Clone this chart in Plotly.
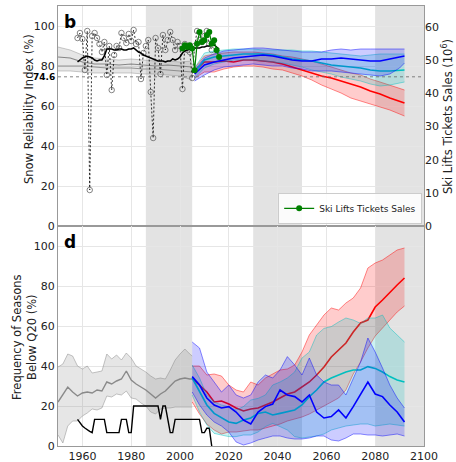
import plotly.graph_objects as go

# ---------------- panel b : Snow Reliability Index ----------------
HIST_YEARS_B = [1950, 1955, 1960, 1965, 1970, 1975, 1980, 1985, 1990, 1995, 2000, 2005]
grey_up_b = [89.5, 88, 85.5, 84, 83.5, 83, 83.5, 83, 82.5, 82.5, 82, 82.5]
grey_mid_b = [84.5, 84, 82, 81, 81, 80.5, 81, 80.5, 80, 80.5, 80, 79.5]
grey_mean_b = [80, 80, 80, 79.5, 79, 79, 79, 78.5, 78.5, 78, 77.5, 77]
grey_lo_b = [77.5, 77.5, 77, 76.5, 76.5, 76.5, 76.5, 76, 76, 75.5, 75, 73]

OBS_YEARS = list(range(1958, 2016))
obs_sri = [94, 96.5, 93.5, 78, 97.5, 18, 95, 96.5, 94, 91, 87, 92, 75.5, 90, 68, 85.5,
           90, 89, 96.5, 94, 91.5, 96, 92.5, 98, 91, 92, 73.5, 86.5, 90, 93, 67, 44,
           94, 89, 76, 95.5, 88, 93, 97, 93, 88, 92, 90, 68.5, 91, 88, 87, 74,
           90, 97.5, 93, 92, 95, 97.5, 91, 88]

RUN_YEARS = list(range(1958, 2017))
run_sri = [82, 83, 84, 84.5, 85, 84.5, 84, 83, 82.5, 83, 83, 85, 88.5, 88.5, 88.5, 88,
           88, 88.5, 88.5, 88, 88, 88.5, 88.5, 89, 88, 87, 86.5, 85.5, 85, 84.5, 84,
           83.5, 83, 82.5, 82.5, 82.5, 82, 82.5, 82.5, 83.5, 83, 83.5, 84.5, 86.5,
           87.5, 88, 88.5, 88.5, 89, 89, 89, 89.5, 89.5, 90, 90, 90.5, 90.5, 89.5, 88.5]

TICKET_YEARS = list(range(2001, 2017))
tickets = [53.5, 54.5, 54, 54.5, 53.5, 47, 55, 58.5, 55.5, 56, 57.5, 58.5, 55, 56, 53, 51]

SRI_THRESHOLD = 74.6

PROJ_YEARS_B = [2006, 2010, 2014, 2018, 2022, 2026, 2030, 2034, 2038, 2042, 2046, 2050,
                2054, 2058, 2062, 2066, 2070, 2074, 2078, 2082, 2086, 2090, 2092]
red_mean_b = [77.5, 82, 82, 82.5, 82, 83, 83, 82.5, 82, 81, 79.5, 78, 76.5, 75, 74, 72.5,
              71, 69.5, 67.5, 66, 64, 62.5, 61.5]
red_up_b = [79, 85, 86, 86.5, 87, 87, 87, 86.5, 86, 85, 84.5, 83.5, 82.5, 81, 79.5, 78,
            76.5, 75.5, 73.5, 72, 70.5, 69, 68]
red_lo_b = [74, 77, 77, 78.5, 79.5, 80, 80, 79.5, 78.5, 78, 76.5, 75, 73, 70.5, 68.5, 66.5,
            64, 62.5, 61, 59.5, 58, 56, 55]
blue_mean_b = [76, 80.5, 82, 83, 84, 84.5, 85, 85.5, 85, 84, 83, 82.5, 82.5, 83.5, 83.5, 84,
               83.5, 83, 82.5, 82.5, 83.5, 84.5, 85]
blue_up_b = [78, 84, 86, 87.5, 88, 88.5, 89, 89, 88.5, 88, 87.5, 87, 87, 87, 88, 88.5, 88,
             88.5, 88.5, 88.5, 88.5, 88.5, 88.5]
blue_lo_b = [72.5, 75.5, 78, 79.5, 80, 80.5, 81, 80.5, 80, 80, 79, 78.5, 77.5, 77.5, 77.5,
             77, 76.5, 76, 75.5, 75, 76, 79, 81.5]
cyan_mean_b = [77, 83, 84.5, 85, 85.5, 86, 86, 86, 85.5, 84.5, 83.5, 83, 82.5, 81.5, 80.5,
               80, 79.5, 79, 78, 77.5, 77.5, 78, 78]
cyan_up_b = [79, 86.5, 87.5, 88, 88.5, 88.5, 88.5, 88, 88, 88, 88, 87.5, 87.5, 87, 86.5, 86,
             85.5, 85, 85.5, 86, 86, 86, 86]
cyan_lo_b = [74, 79, 81, 82, 83, 83, 83, 82.5, 82, 81.5, 80.5, 79.5, 78, 77, 76, 74.5, 73.5,
             72.5, 71, 70, 70.5, 71.5, 72]

# ---------------- panel d : frequency of seasons below Q20 ----------------
HIST_YEARS_D = [1950, 1952, 1954, 1956, 1958, 1960, 1962, 1964, 1966, 1968, 1970, 1972,
                1974, 1976, 1978, 1980, 1982, 1984, 1986, 1988, 1990, 1992, 1994, 1996,
                1998, 2000, 2002, 2004, 2005]
grey_up_d = [39.5, 41, 46, 45, 40, 38.5, 40, 36.5, 37, 37.5, 46, 43.5, 45.5, 43, 46.5, 44,
             40, 38.5, 37, 35, 33.5, 34, 33.5, 38, 43, 46, 48.5, 46, 45]
grey_mean_d = [22, 26, 29.5, 27, 25, 26.5, 27, 26.5, 28, 27.5, 32, 31, 32.5, 33.5, 37.5, 33,
               31, 29.5, 28, 26, 24, 26, 27.5, 30, 32.5, 33.5, 34, 33.5, 33.5]
grey_lo_d = [5.5, 1.5, 10, 12.5, 12.5, 15, 16.5, 18.5, 18, 19, 25, 24.5, 26, 25.5, 27.5, 24,
             23.5, 21.5, 20, 17, 16, 18.5, 19, 19, 19.5, 19.5, 19.5, 19.5, 19.5]

FREQ_YEARS = list(range(1958, 2014))
obs_freq = [13.3, 11.5, 10, 9, 8, 7.3, 6.7, 13.3, 13.3, 13.3, 13.3, 13.3, 6.7, 6.7, 6.7,
            6.7, 6.7, 6.7, 13.3, 13.3, 13.3, 6.7, 6.7, 20, 20, 20, 20, 20, 20, 20, 20, 20,
            20, 20, 13.3, 20, 20, 13.3, 6.7, 6.7, 13.3, 13.3, 13.3, 13.3, 13.3, 13.3,
            13.3, 13.3, 13.3, 13.3, 13.3, 6.7, 6.7, 8.9, 8.9, 0]

PROJ_YEARS_D = [2005, 2008, 2011, 2014, 2017, 2020, 2023, 2026, 2029, 2032, 2035, 2038,
                2041, 2044, 2047, 2050, 2053, 2056, 2059, 2062, 2065, 2068, 2071, 2074,
                2077, 2080, 2083, 2086, 2089, 2092]
red_mean_d = [33.8, 30.5, 27, 22, 22.5, 21, 19, 17.5, 18.5, 19, 20.5, 22, 24, 26, 27, 29.5,
              32, 35.5, 39.5, 44.5, 48, 51.5, 57, 61.5, 63, 69.5, 73, 77, 80.5, 84]
red_up_d = [40, 40, 35.5, 36, 35, 30.5, 28, 27, 32, 30.5, 34, 36, 38, 38.5, 40.5, 47, 55.5,
            60.5, 65.5, 69, 68, 71.5, 74, 79, 89, 91.5, 93, 95.5, 98, 99]
red_lo_d = [22, 16, 11, 8, 6, 7, 7, 7.5, 8, 8, 9, 10, 11, 12.5, 13.5, 14.5, 16, 18, 20, 22,
            24, 28, 36, 42, 49, 55, 59, 63, 67, 70]
blue_mean_d = [34.7, 30.5, 24, 20.5, 19, 19.7, 17, 13, 11, 17, 19.7, 21, 28, 25.5, 24.7, 22,
               25.5, 17, 14, 14.7, 18, 14, 19.7, 25.5, 32, 26, 24.7, 20.5, 17, 12]
blue_up_d = [52, 49, 37, 32, 27, 30.5, 25.5, 24, 25.5, 32, 35.5, 34, 38, 44.7, 40.5, 35.5,
             44, 35.5, 32, 30.5, 30.5, 25.5, 34, 42, 54, 47, 39, 30.5, 24, 19]
blue_lo_d = [27, 20.5, 15.5, 12, 10, 7, 2, 0.5, 1.5, 3, 4, 5, 5, 4, 3.5, 3.5, 4, 5, 5, 3,
             2.5, 4, 6, 6, 5.5, 5.5, 5, 5.5, 6, 5]
cyan_mean_d = [34, 27, 20.5, 16.3, 14, 12, 11.3, 13, 14, 16.3, 17, 15.5, 16.3, 17, 18, 20.5,
               24.7, 28, 32, 34, 35.5, 37, 38, 38, 39.7, 38.8, 37, 34.7, 33, 32]
cyan_up_d = [40.5, 34, 25.5, 22, 20.5, 19.7, 18, 19.7, 23, 23.8, 25.5, 30.5, 32, 34, 37, 44,
             47, 55.5, 58.8, 59.7, 62, 64, 63, 61.3, 64, 64, 65.5, 59, 55.5, 52]
cyan_lo_d = [25.5, 17, 10.5, 6.3, 5.5, 4.7, 4.7, 5.5, 5.5, 7, 9.7, 11.3, 9.7, 8, 4.7, 4,
             4.5, 5, 6, 8, 9, 10, 10.5, 11, 11, 10, 10.5, 11, 10.5, 10]

# reference periods shaded in both panels
PERIODS = [(1986, 2005), (2030, 2050), (2080, 2100)]

FONT = "DejaVu Sans"
RED, BLUE, CYAN = "#ff0000", "#0000ff", "#00bfbf"
FILLS = {RED: "rgba(255,0,0,0.2)", BLUE: "rgba(0,0,255,0.2)", CYAN: "rgba(0,191,191,0.2)"}
EDGES = {RED: "rgba(255,0,0,0.5)", BLUE: "rgba(0,0,255,0.5)", CYAN: "rgba(0,191,191,0.5)"}

fig = go.Figure()


def band(x, lo, hi, fill, xa, ya):
    fig.add_trace(go.Scatter(x=list(x) + list(x)[::-1], y=list(hi) + list(lo)[::-1],
                             fill="toself", fillcolor=fill, mode="lines",
                             line=dict(width=0), xaxis=xa, yaxis=ya,
                             hoverinfo="skip", showlegend=False))


def curve(x, y, color, width, xa, ya, dash="solid"):
    fig.add_trace(go.Scatter(x=x, y=y, mode="lines",
                             line=dict(color=color, width=width, dash=dash),
                             xaxis=xa, yaxis=ya, hoverinfo="skip", showlegend=False))


def scenario(x, lo, mean, hi, color, xa, ya):
    band(x, lo, hi, FILLS[color], xa, ya)
    curve(x, hi, EDGES[color], 0.9, xa, ya)
    curve(x, lo, EDGES[color], 0.9, xa, ya)
    curve(x, mean, color, 1.6, xa, ya)


# ---- panel b
band(HIST_YEARS_B, grey_lo_b, grey_up_b, "rgba(128,128,128,0.2)", "x", "y")
curve(HIST_YEARS_B, grey_up_b, "rgba(128,128,128,0.45)", 0.9, "x", "y")
curve(HIST_YEARS_B, grey_lo_b, "rgba(128,128,128,0.45)", 0.9, "x", "y")
curve(HIST_YEARS_B, grey_mid_b, "rgba(110,110,110,0.8)", 1.2, "x", "y")
curve(HIST_YEARS_B, grey_mean_b, "rgba(128,128,128,0.8)", 1.2, "x", "y")

fig.add_trace(go.Scatter(x=OBS_YEARS, y=obs_sri, mode="lines+markers",
                         line=dict(color="black", width=0.8, dash="2px,2px"),
                         marker=dict(symbol="circle-open", size=5.5, color="#666",
                                     line=dict(width=0.8)),
                         xaxis="x", yaxis="y", hoverinfo="skip", showlegend=False))
curve(RUN_YEARS, run_sri, "black", 1.6, "x", "y")

scenario(PROJ_YEARS_B, red_lo_b, red_mean_b, red_up_b, RED, "x", "y")
scenario(PROJ_YEARS_B, cyan_lo_b, cyan_mean_b, cyan_up_b, CYAN, "x", "y")
scenario(PROJ_YEARS_B, blue_lo_b, blue_mean_b, blue_up_b, BLUE, "x", "y")

fig.add_trace(go.Scatter(x=TICKET_YEARS, y=tickets, mode="lines+markers",
                         name="Ski Lifts Tickets Sales",
                         line=dict(color="green", width=1.2),
                         marker=dict(color="green", size=6),
                         xaxis="x", yaxis="y2", hoverinfo="skip", showlegend=True))

# ---- panel d
band(HIST_YEARS_D, grey_lo_d, grey_up_d, "rgba(128,128,128,0.2)", "x2", "y3")
curve(HIST_YEARS_D, grey_up_d, "rgba(128,128,128,0.5)", 0.9, "x2", "y3")
curve(HIST_YEARS_D, grey_lo_d, "rgba(128,128,128,0.5)", 0.9, "x2", "y3")
curve(HIST_YEARS_D, grey_mean_d, "rgba(128,128,128,0.9)", 1.4, "x2", "y3")
curve(FREQ_YEARS, obs_freq, "black", 1.4, "x2", "y3")

scenario(PROJ_YEARS_D, red_lo_d, red_mean_d, red_up_d, RED, "x2", "y3")
scenario(PROJ_YEARS_D, cyan_lo_d, cyan_mean_d, cyan_up_d, CYAN, "x2", "y3")
scenario(PROJ_YEARS_D, blue_lo_d, blue_mean_d, blue_up_d, BLUE, "x2", "y3")

shapes = []
for x0, x1 in PERIODS:
    for xr, yr in (("x", "y domain"), ("x2", "y3 domain")):
        shapes.append(dict(type="rect", xref=xr, yref=yr, x0=x0, x1=x1, y0=0, y1=1,
                           fillcolor="#e3e3e3", line=dict(width=0), layer="below"))
shapes.append(dict(type="line", xref="x domain", yref="y", x0=0, x1=1,
                   y0=SRI_THRESHOLD, y1=SRI_THRESHOLD,
                   line=dict(color="#666", width=0.8, dash="dot"), layer="above"))

tick_font = dict(family=FONT, size=11, color="#222")
title_font = dict(family=FONT, size=11.5, color="#222")
axis_common = dict(showline=True, mirror=True, linecolor="#999", linewidth=1,
                   gridcolor="#e6e6e6", gridwidth=1, zeroline=False, ticks="",
                   tickfont=tick_font, automargin=False)


def side_title(text, x, y):
    return dict(text=text, xref="paper", yref="paper", x=x, y=y, textangle=-90,
                xanchor="center", yanchor="middle", showarrow=False, font=title_font)


fig.update_layout(
    width=456, height=462,
    margin=dict(l=58, r=32, t=6, b=16),
    paper_bgcolor="white", plot_bgcolor="white",
    font=dict(family=FONT),
    shapes=shapes,
    xaxis=dict(domain=[0, 1], anchor="y", range=[1950, 2100], tick0=1960, dtick=20,
               showticklabels=False, **axis_common),
    yaxis=dict(domain=[0.5, 1], anchor="x", range=[0, 110], tickvals=[0, 20, 40, 60, 80, 100],
               **axis_common),
    yaxis2=dict(overlaying="y", anchor="x", side="right", range=[0, 110 * 45 / SRI_THRESHOLD],
                tickvals=[0, 10, 20, 30, 40, 50, 60], showgrid=False, showline=False,
                zeroline=False, ticks="", tickfont=tick_font, automargin=False),
    xaxis2=dict(domain=[0, 1], anchor="y3", range=[1950, 2100], tick0=1960, dtick=20,
                **axis_common),
    yaxis3=dict(domain=[0, 0.5], anchor="x2", range=[0, 110], tickvals=[0, 20, 40, 60, 80, 100],
                **axis_common),
    legend=dict(x=0.995, y=0.505, xanchor="right", yanchor="bottom",
                bgcolor="rgba(255,255,255,0.85)", bordercolor="#ccc", borderwidth=1,
                font=dict(family=FONT, size=9, color="#222"),
                itemwidth=30, tracegroupgap=0),
    annotations=[
        side_title("Snow Reliability Index (%)", -0.079, 0.766),
        side_title("Frequency of Seasons<br>Below Q20 (%)", -0.09, 0.248),
        side_title("Ski Lifts Tickets Sales (10<sup>6</sup>)", 1.066, 0.748),
        dict(text="<b>b</b>", xref="paper", yref="paper", x=0.01, y=0.99,
             xanchor="left", yanchor="top", showarrow=False,
             font=dict(family=FONT, size=17, color="black")),
        dict(text="<b>d</b>", xref="paper", yref="paper", x=0.01, y=0.49,
             xanchor="left", yanchor="top", showarrow=False,
             font=dict(family=FONT, size=17, color="black")),
        dict(text="<b>74.6</b>", xref="paper", yref="y", x=-0.002, y=SRI_THRESHOLD,
             xanchor="right", yanchor="middle", showarrow=False,
             font=dict(family=FONT, size=9, color="black")),
    ],
)

fig.write_html("out.html", config={"displayModeBar": False})
